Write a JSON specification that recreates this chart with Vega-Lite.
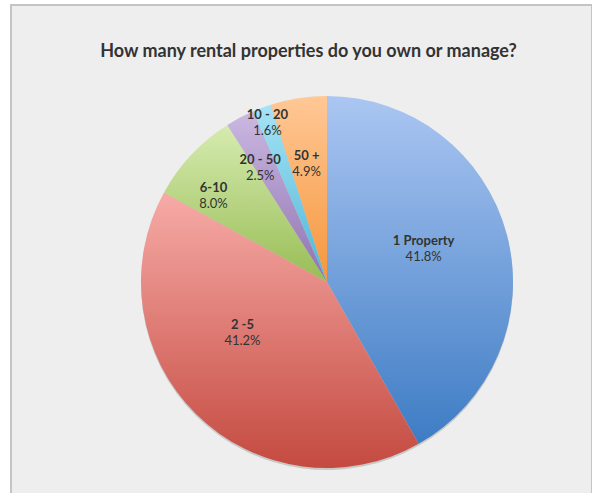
{
  "$schema": "https://vega.github.io/schema/vega-lite/v6.json",
  "width": 581,
  "height": 500,
  "autosize": {"type": "none"},
  "padding": {"left": 11, "top": 5, "right": 0, "bottom": 0},
  "background": "white",
  "view": {"fill": "#eeeeee", "stroke": "#c4c4c4", "strokeWidth": 2},
  "config": {
    "view": {"fill": "#eeeeee", "stroke": "#c4c4c4", "strokeWidth": 2},
    "font": "Lato"
  },
  "title": {
    "text": "How many rental properties do you own or manage?",
    "font": "Lato",
    "fontSize": 18,
    "fontWeight": "bold",
    "color": "#333333",
    "anchor": "middle",
    "baseline": "alphabetic",
    "offset": -70,
    "dx": 7
  },
  "data": {
    "values": [
      {"order": 1, "category": "1 Property", "value": 41.8, "pct": "41.8%"},
      {"order": 2, "category": "2 -5", "value": 41.2, "pct": "41.2%"},
      {"order": 3, "category": "6-10", "value": 8.0, "pct": "8.0%"},
      {"order": 4, "category": "20 - 50", "value": 2.5, "pct": "2.5%"},
      {"order": 5, "category": "10 - 20", "value": 1.6, "pct": "1.6%"},
      {"order": 6, "category": "50 +", "value": 4.9, "pct": "4.9%"}
    ]
  },
  "transform": [
    {"stack": "value", "groupby": [], "sort": [{"field": "order", "order": "ascending"}], "as": ["start", "end"]},
    {"calculate": "(datum.start + datum.end) / 2", "as": "mid"}
  ],
  "layer": [
    {
      "mark": {"type": "arc", "x": 316, "y": 279, "radius": 186, "fill": "#9a9a9a", "opacity": 0.45},
      "encoding": {
        "theta": {"field": "start", "type": "quantitative", "scale": {"domain": [0, 100], "range": [0, 6.283185307]}},
        "theta2": {"field": "end"}
      }
    },
    {
      "transform": [{"filter": "datum.order == 1"}],
      "mark": {"type": "arc", "x": 316, "y": 277, "radius": 186,
        "fill": {"gradient": "linear", "x1": 0, "y1": 0, "x2": 0, "y2": 1,
          "stops": [{"offset": 0, "color": "#abc6f2"}, {"offset": 1, "color": "#3d7cc4"}]}},
      "encoding": {
        "theta": {"field": "start", "type": "quantitative", "scale": {"domain": [0, 100], "range": [0, 6.283185307]}},
        "theta2": {"field": "end"}
      }
    },
    {
      "transform": [{"filter": "datum.order == 2"}],
      "mark": {"type": "arc", "x": 316, "y": 277, "radius": 186,
        "fill": {"gradient": "linear", "x1": 0, "y1": 0, "x2": 0, "y2": 1,
          "stops": [{"offset": 0, "color": "#f7aba7"}, {"offset": 1, "color": "#c44a40"}]}},
      "encoding": {
        "theta": {"field": "start", "type": "quantitative", "scale": {"domain": [0, 100], "range": [0, 6.283185307]}},
        "theta2": {"field": "end"}
      }
    },
    {
      "transform": [{"filter": "datum.order == 3"}],
      "mark": {"type": "arc", "x": 316, "y": 277, "radius": 186,
        "fill": {"gradient": "linear", "x1": 0, "y1": 0, "x2": 0, "y2": 1,
          "stops": [{"offset": 0, "color": "#d6ebb0"}, {"offset": 1, "color": "#98bd55"}]}},
      "encoding": {
        "theta": {"field": "start", "type": "quantitative", "scale": {"domain": [0, 100], "range": [0, 6.283185307]}},
        "theta2": {"field": "end"}
      }
    },
    {
      "transform": [{"filter": "datum.order == 4"}],
      "mark": {"type": "arc", "x": 316, "y": 277, "radius": 186,
        "fill": {"gradient": "linear", "x1": 0, "y1": 0, "x2": 0, "y2": 1,
          "stops": [{"offset": 0, "color": "#cbb8e2"}, {"offset": 1, "color": "#8f73b0"}]}},
      "encoding": {
        "theta": {"field": "start", "type": "quantitative", "scale": {"domain": [0, 100], "range": [0, 6.283185307]}},
        "theta2": {"field": "end"}
      }
    },
    {
      "transform": [{"filter": "datum.order == 5"}],
      "mark": {"type": "arc", "x": 316, "y": 277, "radius": 186,
        "fill": {"gradient": "linear", "x1": 0, "y1": 0, "x2": 0, "y2": 1,
          "stops": [{"offset": 0, "color": "#a6e3f5"}, {"offset": 1, "color": "#4db6d6"}]}},
      "encoding": {
        "theta": {"field": "start", "type": "quantitative", "scale": {"domain": [0, 100], "range": [0, 6.283185307]}},
        "theta2": {"field": "end"}
      }
    },
    {
      "transform": [{"filter": "datum.order == 6"}],
      "mark": {"type": "arc", "x": 316, "y": 277, "radius": 186,
        "fill": {"gradient": "linear", "x1": 0, "y1": 0, "x2": 0, "y2": 1,
          "stops": [{"offset": 0, "color": "#ffc896"}, {"offset": 1, "color": "#f5963c"}]}},
      "encoding": {
        "theta": {"field": "start", "type": "quantitative", "scale": {"domain": [0, 100], "range": [0, 6.283185307]}},
        "theta2": {"field": "end"}
      }
    },
    {
      "transform": [{"filter": "datum.order == 1"}],
      "encoding": {"theta": {"field": "mid", "type": "quantitative", "scale": {"domain": [0, 100], "range": [0, 6.283185307]}}},
      "layer": [
        {"mark": {"type": "text", "x": 316, "y": 277, "radius": 102, "dx": -2, "dy": -15, "fontSize": 13, "fontWeight": "bold", "fill": "#333333", "align": "center", "baseline": "middle"},
         "encoding": {"text": {"field": "category"}}},
        {"mark": {"type": "text", "x": 316, "y": 277, "radius": 102, "dx": -2, "dy": 1, "fontSize": 13, "fill": "#333333", "align": "center", "baseline": "middle"},
         "encoding": {"text": {"field": "pct"}}}
      ]
    },
    {
      "transform": [{"filter": "datum.order == 2"}],
      "encoding": {"theta": {"field": "mid", "type": "quantitative", "scale": {"domain": [0, 100], "range": [0, 6.283185307]}}},
      "layer": [
        {"mark": {"type": "text", "x": 316, "y": 277, "radius": 99, "dx": -15, "dy": -27, "fontSize": 13, "fontWeight": "bold", "fill": "#333333", "align": "center", "baseline": "middle"},
         "encoding": {"text": {"field": "category"}}},
        {"mark": {"type": "text", "x": 316, "y": 277, "radius": 99, "dx": -15, "dy": -11, "fontSize": 13, "fill": "#333333", "align": "center", "baseline": "middle"},
         "encoding": {"text": {"field": "pct"}}}
      ]
    },
    {
      "transform": [{"filter": "datum.order == 3"}],
      "encoding": {"theta": {"field": "mid", "type": "quantitative", "scale": {"domain": [0, 100], "range": [0, 6.283185307]}}},
      "layer": [
        {"mark": {"type": "text", "x": 316, "y": 277, "radius": 142, "dx": -10, "dy": 3, "fontSize": 13, "fontWeight": "bold", "fill": "#333333", "align": "center", "baseline": "middle"},
         "encoding": {"text": {"field": "category"}}},
        {"mark": {"type": "text", "x": 316, "y": 277, "radius": 142, "dx": -10, "dy": 19, "fontSize": 13, "fill": "#333333", "align": "center", "baseline": "middle"},
         "encoding": {"text": {"field": "pct"}}}
      ]
    },
    {
      "transform": [{"filter": "datum.order == 4"}],
      "encoding": {"theta": {"field": "mid", "type": "quantitative", "scale": {"domain": [0, 100], "range": [0, 6.283185307]}}},
      "layer": [
        {"mark": {"type": "text", "x": 316, "y": 277, "radius": 132, "dx": -5, "dy": -5, "fontSize": 13, "fontWeight": "bold", "fill": "#333333", "align": "center", "baseline": "middle"},
         "encoding": {"text": {"field": "category"}}},
        {"mark": {"type": "text", "x": 316, "y": 277, "radius": 132, "dx": -5, "dy": 11, "fontSize": 13, "fill": "#333333", "align": "center", "baseline": "middle"},
         "encoding": {"text": {"field": "pct"}}}
      ]
    },
    {
      "transform": [{"filter": "datum.order == 5"}],
      "encoding": {"theta": {"field": "mid", "type": "quantitative", "scale": {"domain": [0, 100], "range": [0, 6.283185307]}}},
      "layer": [
        {"mark": {"type": "text", "x": 316, "y": 277, "radius": 170, "dx": 0, "dy": -8, "fontSize": 13, "fontWeight": "bold", "fill": "#333333", "align": "center", "baseline": "middle"},
         "encoding": {"text": {"field": "category"}}},
        {"mark": {"type": "text", "x": 316, "y": 277, "radius": 170, "dx": 0, "dy": 8, "fontSize": 13, "fill": "#333333", "align": "center", "baseline": "middle"},
         "encoding": {"text": {"field": "pct"}}}
      ]
    },
    {
      "transform": [{"filter": "datum.order == 6"}],
      "encoding": {"theta": {"field": "mid", "type": "quantitative", "scale": {"domain": [0, 100], "range": [0, 6.283185307]}}},
      "layer": [
        {"mark": {"type": "text", "x": 316, "y": 277, "radius": 120, "dx": -2, "dy": -7, "fontSize": 13, "fontWeight": "bold", "fill": "#333333", "align": "center", "baseline": "middle"},
         "encoding": {"text": {"field": "category"}}},
        {"mark": {"type": "text", "x": 316, "y": 277, "radius": 120, "dx": -2, "dy": 9, "fontSize": 13, "fill": "#333333", "align": "center", "baseline": "middle"},
         "encoding": {"text": {"field": "pct"}}}
      ]
    }
  ]
}
